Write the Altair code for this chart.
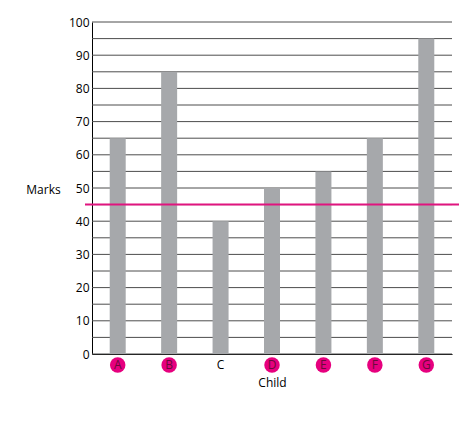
import altair as alt
import pandas as pd

children = ["A", "B", "C", "D", "E", "F", "G"]
marks = [65, 85, 40, 50, 55, 65, 95]
circled = [True, True, False, True, True, True, True]
pass_mark = [45]
grid_values = list(range(0, 101, 5))

df = pd.DataFrame({"Child": children, "Marks": marks, "circled": circled})
df_line = pd.DataFrame({"Marks": pass_mark})
df_grid = pd.DataFrame({"Marks": grid_values})

FONT = "Open Sans"
W, H = 360, 332

x = alt.X("Child:N", sort=children,
          scale=alt.Scale(paddingInner=0, paddingOuter=0),
          axis=alt.Axis(labels=False, ticks=False, domainColor="#000000",
                        title="Child", titlePadding=23, titleFontWeight="normal",
                        titleFontSize=12, titleFont=FONT, titleColor="#000000"))

y = alt.Y("Marks:Q", scale=alt.Scale(domain=[0, 100], nice=False),
          axis=alt.Axis(values=grid_values, tickCount=21,
                        labelExpr="datum.value % 10 == 0 ? datum.label : ''",
                        labelOverlap=False, labelBound=False,
                        grid=False,
                        ticks=False, labelPadding=3, domainColor="#000000",
                        labelColor="#000000", labelFont=FONT, labelFontSize=12,
                        title="Marks", titleAngle=0, titleAlign="center",
                        titleBaseline="middle", titleX=-49, titleY=167,
                        titleFontWeight="normal", titleFontSize=12,
                        titleFont=FONT, titleColor="#000000"))

grid = alt.Chart(df_grid).mark_rule(color="#4d4d4d", strokeWidth=1).encode(
    y=y, x=alt.value(0), x2=alt.value(W))

bars = alt.Chart(df).mark_bar(color="#A6A8AB", size=16, opacity=1).encode(x=x, y=y)

line = alt.Chart(df_line).mark_rule(color="#E0147F", strokeWidth=2).encode(
    y=y, x=alt.value(-7), x2=alt.value(W + 7))

circles = alt.Chart(df).transform_filter("datum.circled").mark_point(
    shape="circle", filled=True, size=240, color="#E6007E", opacity=1
).encode(x=x, y=alt.value(H + 11))

labels = alt.Chart(df).mark_text(font=FONT, fontSize=12, baseline="middle", dy=0).encode(
    x=x, y=alt.value(H + 11),
    text="Child:N",
    color=alt.condition("datum.circled", alt.value("#6a0a3a"), alt.value("#000000")))

chart = alt.layer(grid, bars, line, circles, labels).properties(
    width=W, height=H,
    autosize=alt.AutoSizeParams(type="none"),
    padding={"left": 84, "top": 14, "right": 14, "bottom": 60},
).configure_view(stroke=None).configure_axis(labelFont=FONT, titleFont=FONT)

chart.save("out.html", embed_options={"renderer": "svg", "actions": False})
